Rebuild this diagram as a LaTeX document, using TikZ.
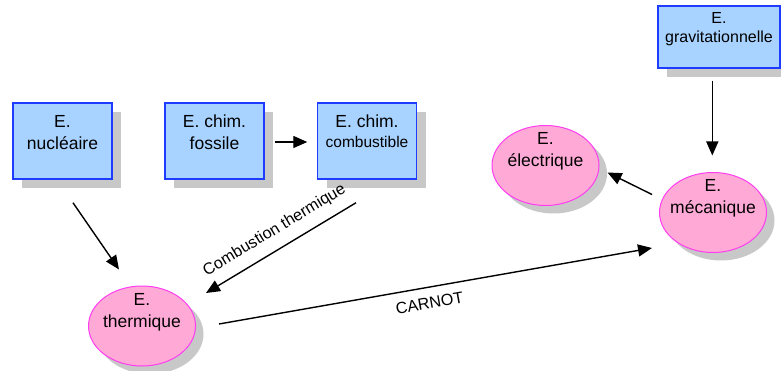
\documentclass[tikz,border=0pt]{standalone}
\usepackage{fontspec}
\setmainfont{Liberation Sans}
\usetikzlibrary{shadows,arrows.meta,shapes.geometric}
\definecolor{boxfill}{RGB}{168,210,255}
\definecolor{boxdraw}{RGB}{30,60,255}
\definecolor{ellfill}{RGB}{255,170,214}
\definecolor{elldraw}{RGB}{255,60,240}
\definecolor{shadowgray}{RGB}{200,200,200}
\tikzset{
  boxnode/.style={rectangle, draw=boxdraw, fill=boxfill, line width=1.5pt,
    minimum width=99pt, minimum height=76pt, inner sep=0pt,
    drop shadow={shadow xshift=9pt, shadow yshift=-9pt, fill=shadowgray, opacity=1}},
  ellnode/.style={ellipse, draw=elldraw, fill=ellfill, line width=1pt,
    minimum width=107pt, minimum height=80pt, inner sep=0pt,
    drop shadow={shadow xshift=8pt, shadow yshift=-8pt, fill=shadowgray, opacity=1}},
  txt/.style={inner sep=0pt, align=center, anchor=north,
    font=\fontsize{17.5}{22}\selectfont},
  lbl/.style={inner sep=0pt, font=\fontsize{16.2}{18}\selectfont, sloped},
  arr/.style={line width=1.4pt, -{Triangle[length=14pt,width=12pt]}}
}
\begin{document}
\begin{tikzpicture}[x=1pt,y=-1pt]
\useasboundingbox (0,0) rectangle (781,371);
% boxes
\node[boxnode] (nuc) at (62.5,141) {};
\node[boxnode] (fos) at (214.5,141) {};
\node[boxnode] (comb) at (367,141) {};
\node[boxnode, minimum width=122pt, minimum height=62pt] (grav) at (719,37) {};
% ellipses
\node[ellnode] (elec) at (545.5,165.5) {};
\node[ellnode] (mec) at (713,212.5) {};
\node[ellnode] (therm) at (142,326) {};
% texts
\node[txt] (tnuc) at ([yshift=26pt]nuc.center) {E.\\nucléaire};
\node[txt] (tfos) at ([yshift=26pt]fos.center) {E. chim.\\fossile};
\node[txt] (tcomb) at ([yshift=26pt]comb.center) {E. chim.\\[-2pt]{\fontsize{15.5}{20}\selectfont combustible}};
\node[txt, font=\fontsize{16}{19}\selectfont] (tgrav) at ([yshift=24.5pt]grav.center) {E.\\gravitationnelle};
\node[txt] (telec) at ([yshift=33pt]elec.center) {E.\\électrique};
\node[txt] (tmec) at ([yshift=33pt]mec.center) {E.\\mécanique};
\node[txt] (ttherm) at ([yshift=33pt]therm.center) {E.\\thermique};
% connectors
\draw[arr] ([xshift=10.5pt,yshift=-23pt]nuc.south) -- ([xshift=-23pt,yshift=16pt]therm.north);
\draw[arr] ([xshift=10pt,yshift=-1pt]fos.east) -- ([xshift=-9.5pt,yshift=-1pt]comb.west);
\draw[arr] ([xshift=-11pt,yshift=-23pt]comb.south) --
  node[lbl, above=10pt, pos=0.48] (lcomb) {Combustion thermique}
  ([xshift=10pt,yshift=33pt]therm.east);
\draw[arr] ([xshift=23pt,yshift=2pt]therm.east) --
  node[lbl, below=9pt, pos=0.48] (lcarnot) {CARNOT}
  ([xshift=-7pt,yshift=-35.5pt]mec.west);
\draw[arr] ([xshift=-6.7pt,yshift=-12pt]grav.south) -- ([xshift=-0.7pt,yshift=16.5pt]mec.north);
\draw[arr] ([xshift=-7pt,yshift=18pt]mec.west) -- ([xshift=8pt,yshift=-7pt]elec.east);
\end{tikzpicture}
\end{document}
